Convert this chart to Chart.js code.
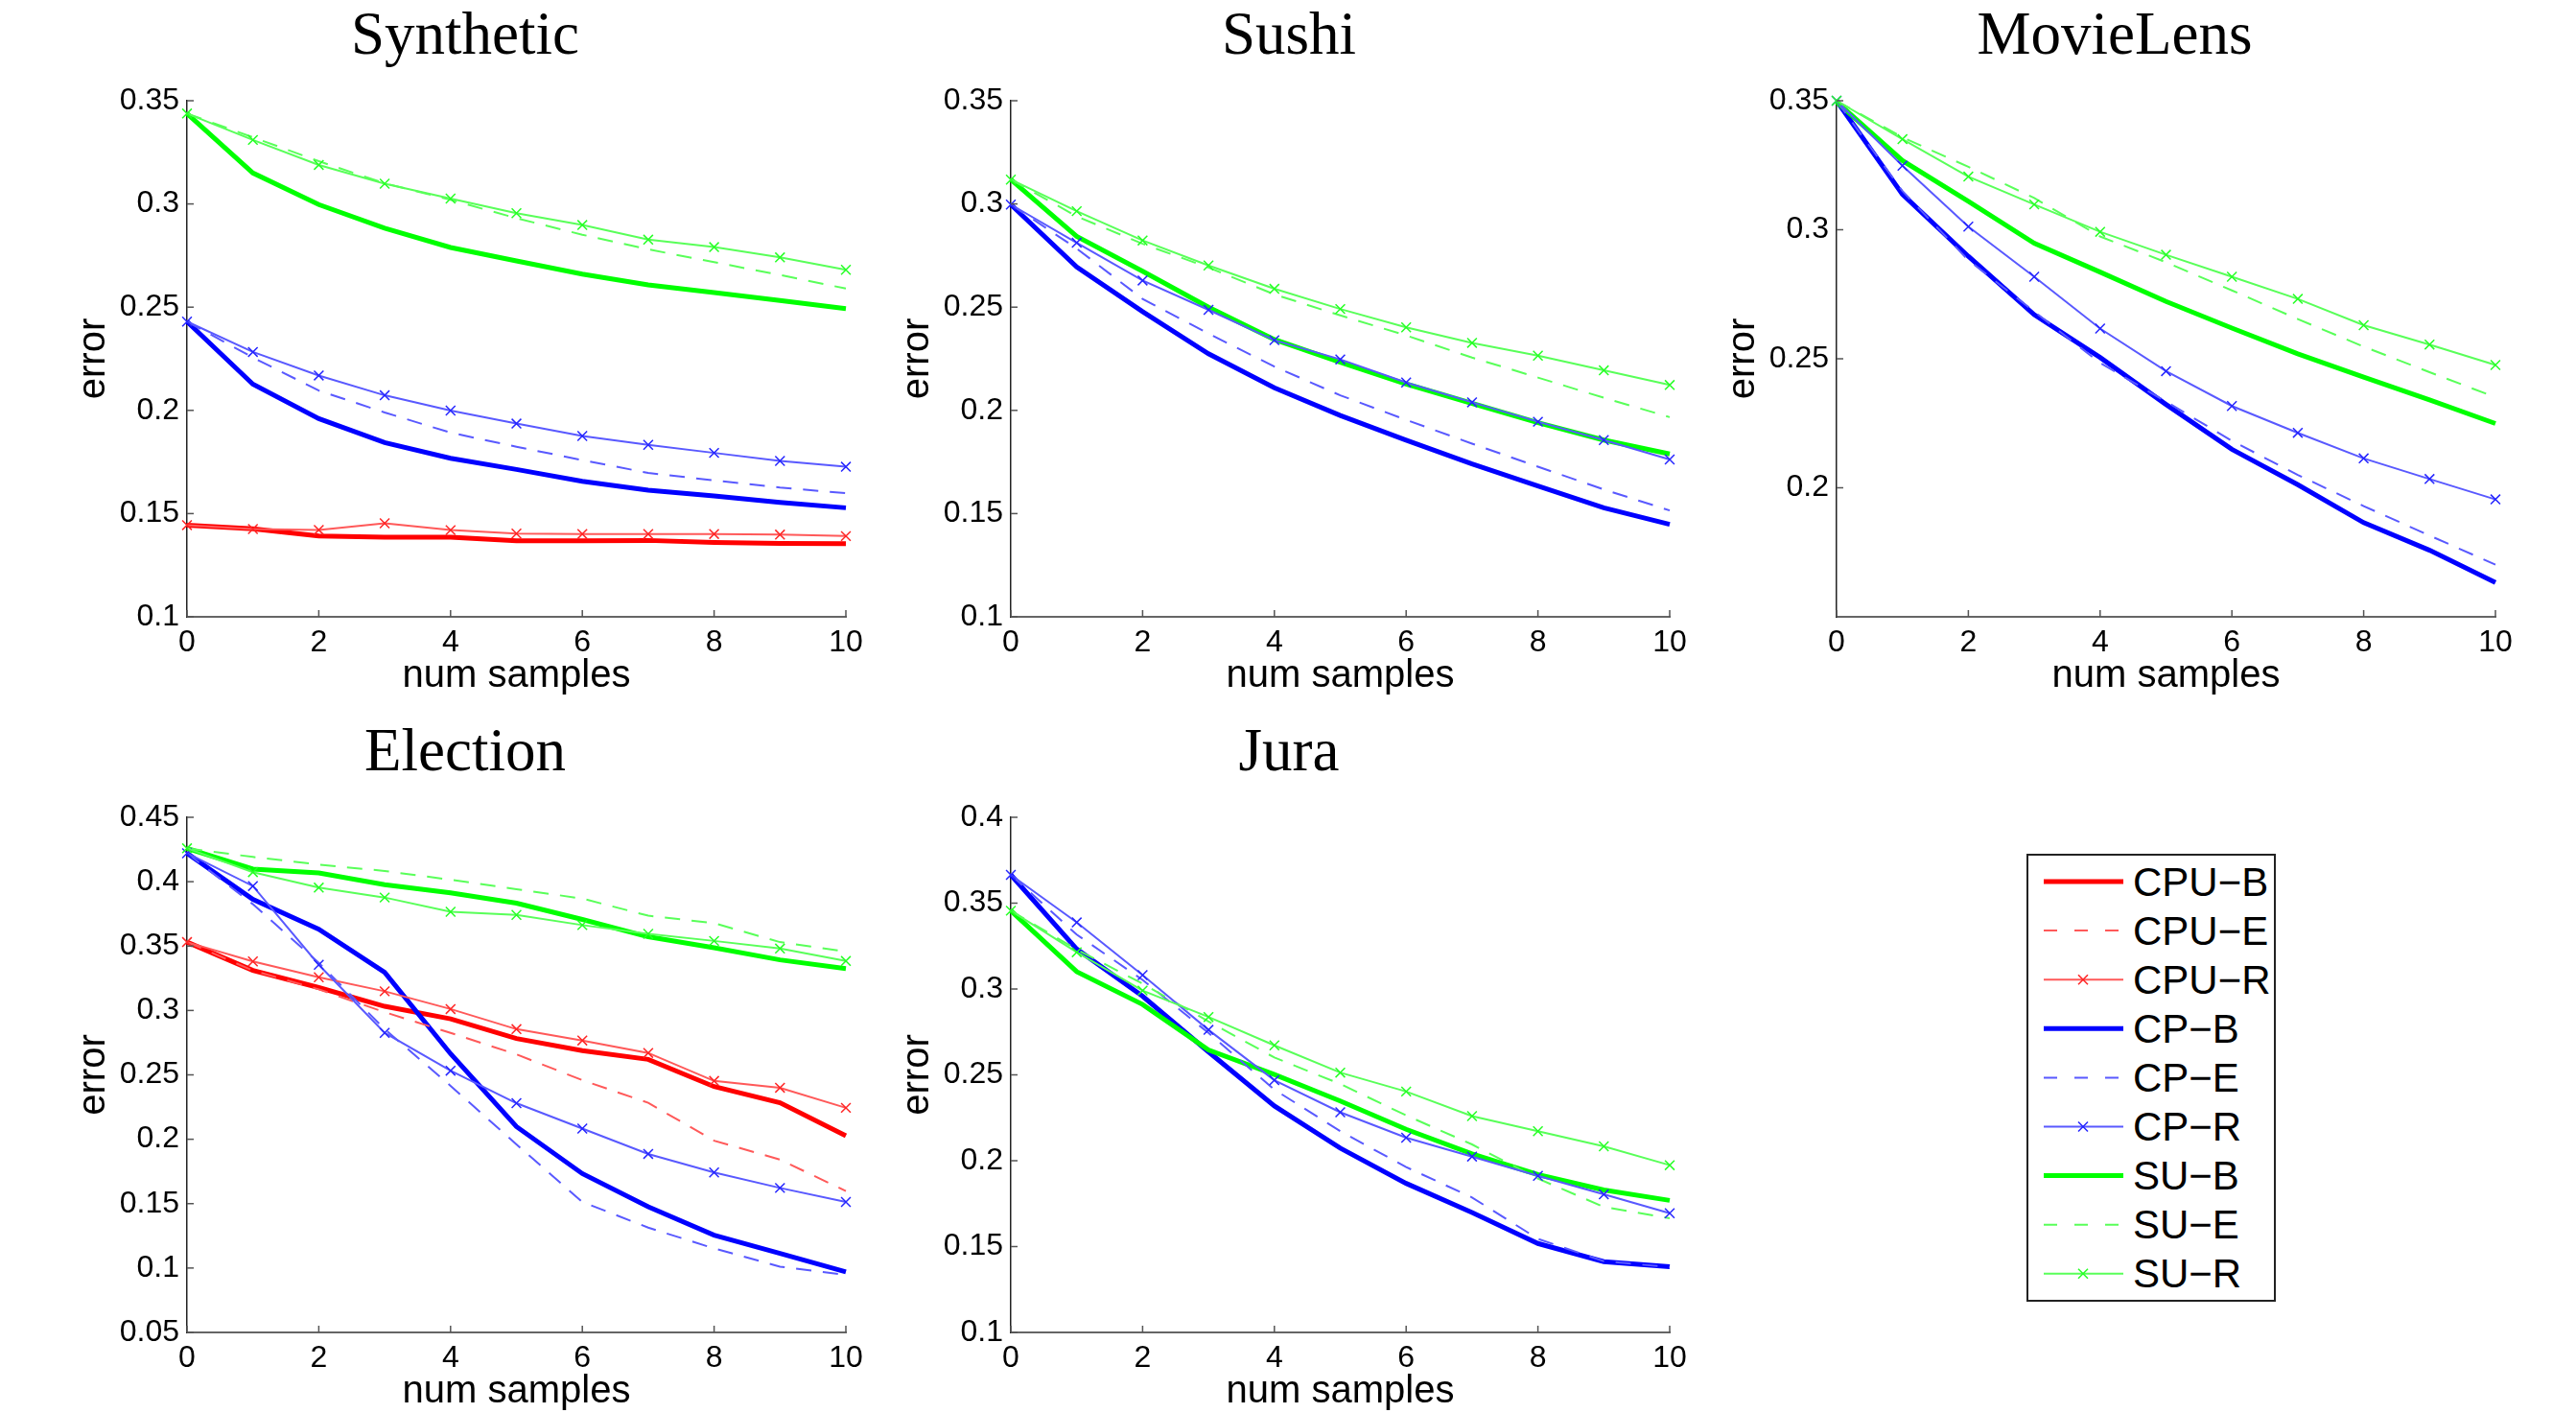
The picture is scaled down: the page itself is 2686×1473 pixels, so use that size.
<!DOCTYPE html>
<html>
<head>
<meta charset="utf-8">
<script src="https://cdn.jsdelivr.net/npm/chart.js@4.4.0/dist/chart.umd.min.js"></script>
<style>
  html, body { margin: 0; padding: 0; background: #fff; }
  body { width: 2686px; height: 1473px; position: relative; overflow: hidden; }
  canvas { position: absolute; }
  #legend { position: absolute; left: 2113px; top: 890px; width: 260px; height: 467px;
            box-sizing: border-box; border: 2px solid #222; background: #fff; }
</style>
</head>
<body>
<canvas id="synthetic" width="970" height="733" style="left:0px;top:0px"></canvas>
<canvas id="sushi" width="970" height="733" style="left:859px;top:0px"></canvas>
<canvas id="movielens" width="970" height="733" style="left:1720px;top:0px"></canvas>
<canvas id="election" width="970" height="732" style="left:0px;top:747px"></canvas>
<canvas id="jura" width="970" height="732" style="left:859px;top:747px"></canvas>
<div id="legend"></div>

<script>
const samples = [0, 1, 2, 3, 4, 5, 6, 7, 8, 9, 10];
const xTicks = [0, 2, 4, 6, 8, 10];

// Synthetic
const synTicks = [0.1, 0.15, 0.2, 0.25, 0.3, 0.35];
const synCpuB = [0.1444, 0.1426, 0.1391, 0.1386, 0.1386, 0.1368, 0.1368, 0.137, 0.136, 0.1356, 0.1354];
const synCpuR = [0.1444, 0.1425, 0.1421, 0.1453, 0.142, 0.1403, 0.1401, 0.1401, 0.1401, 0.1398, 0.1391];
const synCpB = [0.243, 0.2127, 0.196, 0.1844, 0.1768, 0.1714, 0.1656, 0.1613, 0.1585, 0.1554, 0.1528];
const synCpE = [0.243, 0.2256, 0.2096, 0.199, 0.1892, 0.1824, 0.1759, 0.1697, 0.1661, 0.1626, 0.1599];
const synCpR = [0.243, 0.2283, 0.2169, 0.2073, 0.1999, 0.1936, 0.1876, 0.1833, 0.1794, 0.1755, 0.1727];
const synSuB = [0.3438, 0.315, 0.2997, 0.2883, 0.2789, 0.2724, 0.266, 0.2608, 0.2571, 0.2532, 0.2493];
const synSuE = [0.3438, 0.3323, 0.3207, 0.31, 0.302, 0.2931, 0.2851, 0.278, 0.2718, 0.2656, 0.259];
const synSuR = [0.3438, 0.331, 0.3189, 0.3098, 0.3026, 0.2955, 0.2898, 0.2827, 0.2791, 0.2741, 0.2681];

// Sushi
const sushiTicks = [0.1, 0.15, 0.2, 0.25, 0.3, 0.35];
const sushiCpB = [0.2997, 0.2695, 0.2478, 0.2274, 0.2109, 0.1975, 0.1856, 0.1741, 0.1634, 0.1528, 0.1448];
const sushiCpE = [0.2997, 0.2784, 0.254, 0.2372, 0.2212, 0.2073, 0.1954, 0.1839, 0.1727, 0.1617, 0.1515];
const sushiCpR = [0.2997, 0.2812, 0.2629, 0.2487, 0.234, 0.2247, 0.2135, 0.2039, 0.1945, 0.1856, 0.1762];
const sushiSuB = [0.3118, 0.2843, 0.2674, 0.25, 0.2343, 0.2233, 0.2128, 0.2034, 0.194, 0.1856, 0.1789];
const sushiSuE = [0.3118, 0.294, 0.2807, 0.2692, 0.2562, 0.246, 0.2363, 0.2256, 0.2159, 0.2061, 0.1967];
const sushiSuR = [0.3118, 0.2965, 0.2823, 0.2702, 0.2589, 0.2491, 0.2402, 0.2327, 0.2265, 0.2194, 0.2123];

// MovieLens
const movTicks = [0.2, 0.25, 0.3, 0.35];
const movCpB = [0.35, 0.3137, 0.2897, 0.2671, 0.2505, 0.2323, 0.2149, 0.2012, 0.1865, 0.1758, 0.1633];
const movCpE = [0.35, 0.315, 0.2882, 0.2683, 0.2484, 0.2334, 0.2182, 0.205, 0.1929, 0.1815, 0.1702];
const movCpR = [0.35, 0.3248, 0.3012, 0.2818, 0.2617, 0.2452, 0.2317, 0.2213, 0.2114, 0.2034, 0.1955];
const movSuB = [0.3496, 0.3268, 0.311, 0.2948, 0.2836, 0.2722, 0.2619, 0.2519, 0.2429, 0.2341, 0.2249];
const movSuE = [0.35, 0.3358, 0.3244, 0.3123, 0.2974, 0.2874, 0.2765, 0.2654, 0.2547, 0.2448, 0.2351];
const movSuR = [0.35, 0.3351, 0.3206, 0.3098, 0.2992, 0.2903, 0.2818, 0.2732, 0.263, 0.2555, 0.2476];

// Election
const eleTicks = [0.05, 0.1, 0.15, 0.2, 0.25, 0.3, 0.35, 0.4, 0.45];
const eleCpuB = [0.3531, 0.3311, 0.3178, 0.3032, 0.2935, 0.2782, 0.2688, 0.262, 0.2409, 0.2283, 0.2027];
const eleCpuE = [0.3531, 0.331, 0.3164, 0.2987, 0.2826, 0.2659, 0.2459, 0.2283, 0.1989, 0.1842, 0.1598];
const eleCpuR = [0.3531, 0.3381, 0.3258, 0.3149, 0.3011, 0.2855, 0.2767, 0.267, 0.2453, 0.24, 0.2244];
const eleCpB = [0.4221, 0.3863, 0.3631, 0.3296, 0.2664, 0.2098, 0.1733, 0.1475, 0.1255, 0.1114, 0.097];
const eleCpE = [0.4221, 0.3825, 0.337, 0.2855, 0.2415, 0.196, 0.1513, 0.1314, 0.1152, 0.1011, 0.0946];
const eleCpR = [0.4221, 0.3966, 0.3355, 0.2826, 0.2532, 0.228, 0.2083, 0.1886, 0.1742, 0.1622, 0.1513];
const eleSuB = [0.4259, 0.4098, 0.4068, 0.3977, 0.3913, 0.3833, 0.3707, 0.3572, 0.3487, 0.3393, 0.3325];
const eleSuE = [0.4259, 0.4192, 0.4133, 0.4083, 0.4015, 0.3942, 0.3869, 0.3736, 0.3678, 0.3531, 0.3457];
const eleSuR = [0.4259, 0.4074, 0.3954, 0.3877, 0.3766, 0.3742, 0.3663, 0.3595, 0.354, 0.3481, 0.3384];

// Jura
const juraTicks = [0.1, 0.15, 0.2, 0.25, 0.3, 0.35, 0.4];
const juraCpB = [0.3665, 0.3233, 0.2958, 0.2634, 0.2319, 0.2073, 0.1868, 0.1698, 0.1518, 0.1412, 0.1383];
const juraCpE = [0.3665, 0.3317, 0.3053, 0.2744, 0.2414, 0.2172, 0.1963, 0.1786, 0.1545, 0.1415, 0.138];
const juraCpR = [0.3665, 0.3388, 0.3081, 0.2762, 0.2469, 0.2282, 0.2134, 0.2024, 0.1912, 0.1804, 0.1694];
const juraSuB = [0.3456, 0.3101, 0.291, 0.2645, 0.2502, 0.2348, 0.2183, 0.204, 0.1919, 0.183, 0.1769];
const juraSuE = [0.3456, 0.323, 0.3031, 0.2811, 0.2601, 0.2447, 0.2264, 0.2095, 0.1896, 0.1731, 0.1665];
const juraSuR = [0.3456, 0.3214, 0.2991, 0.2837, 0.2672, 0.2513, 0.2403, 0.226, 0.2172, 0.2084, 0.1974];

const legendNames = ['CPU\u2212B', 'CPU\u2212E', 'CPU\u2212R', 'CP\u2212B', 'CP\u2212E', 'CP\u2212R', 'SU\u2212B', 'SU\u2212E', 'SU\u2212R'];

// colours per method, drawing rank (higher = drawn earlier)
const methodColor = { CPU: [255, 0, 0], CP: [0, 0, 255], SU: [0, 255, 0] };
const methodRank = { CPU: 3, CP: 2, SU: 1 };

function rgb(c, k) {
  // k = share of white mixed in
  return 'rgb(' + c.map(v => Math.round(v * (1 - k) + 255 * k)).join(',') + ')';
}

function series(method, kind, values) {
  const c = methodColor[method];
  const ds = {
    label: method + '-' + kind,
    data: samples.map((x, i) => ({ x: x, y: values[i] })),
    tension: 0,
    clip: false,
    pointRadius: 0,
    fill: false
  };
  if (kind === 'B') {
    ds.borderColor = rgb(c, 0);
    ds.borderWidth = 5;
    ds.order = 30 + methodRank[method];
  } else if (kind === 'E') {
    ds.borderColor = rgb(c, 0.35);
    ds.borderWidth = 2;
    ds.borderDash = [16, 12];
    ds.order = 20 + methodRank[method];
  } else {
    ds.borderColor = rgb(c, 0.35);
    ds.borderWidth = 2;
    ds.pointStyle = 'crossRot';
    ds.pointRadius = 7;
    ds.pointBorderWidth = 1.5;
    ds.pointBorderColor = rgb(c, 0.15);
    ds.order = 10 + methodRank[method];
  }
  return ds;
}

// MATLAB style ticks pointing into the plot
const inTicks = {
  id: 'inTicks',
  afterDraw(chart) {
    const { ctx, chartArea: a, scales: { x, y } } = chart;
    ctx.save();
    ctx.strokeStyle = '#555';
    ctx.lineWidth = 1.5;
    x.ticks.forEach(t => {
      const px = x.getPixelForValue(t.value);
      ctx.beginPath(); ctx.moveTo(px, a.bottom); ctx.lineTo(px, a.bottom - 7); ctx.stroke();
    });
    y.ticks.forEach(t => {
      const py = y.getPixelForValue(t.value);
      ctx.beginPath(); ctx.moveTo(a.left, py); ctx.lineTo(a.left + 7, py); ctx.stroke();
    });
    ctx.restore();
  }
};

const sansTick = { family: 'Liberation Sans', size: 32, lineHeight: 1 };
const sansTitle = { family: 'Liberation Sans', size: 40, lineHeight: 1 };

function panel(id, title, yMin, yMax, yTicks, sets) {
  return new Chart(document.getElementById(id), {
    type: 'line',
    data: { datasets: sets },
    options: {
      responsive: false,
      animation: false,
      events: [],
      // equal side padding keeps the title centred 53px left of the plot centre
      layout: { padding: { left: 88, right: 88, top: 0, bottom: 0 } },
      plugins: {
        legend: { display: false },
        tooltip: { enabled: false },
        title: {
          display: true,
          text: title,
          color: '#000',
          font: { family: 'Liberation Serif', size: 63, weight: 'normal', lineHeight: 1 },
          padding: { top: 8, bottom: 34 }
        }
      },
      scales: {
        x: {
          type: 'linear',
          min: 0,
          max: 10,
          grid: { display: false, drawTicks: false },
          border: { color: '#666', width: 2 },
          afterBuildTicks: s => { s.ticks = xTicks.map(v => ({ value: v })); },
          afterFit: s => { s.height = 90; },
          ticks: { color: '#000', font: sansTick, padding: 11, maxRotation: 0, autoSkip: false,
                   callback: v => String(v) },
          title: { display: true, text: 'num samples', color: '#000', font: sansTitle,
                   padding: { top: 0, bottom: 8 } }
        },
        y: {
          min: yMin,
          max: yMax,
          grid: { display: false, drawTicks: false },
          border: { color: '#222', width: 1.5 },
          afterBuildTicks: s => { s.ticks = yTicks.map(v => ({ value: v })); },
          afterFit: s => { s.width = 107; },
          ticks: { color: '#000', font: sansTick, padding: 8, autoSkip: false,
                   callback: v => String(v) },
          title: { display: true, text: 'error', color: '#000',
                   font: { family: 'Liberation Sans', size: 40, lineHeight: 0.5 },
                   padding: { top: 0, bottom: 0 } }
        }
      }
    },
    plugins: [inTicks]
  });
}

panel('synthetic', 'Synthetic', 0.1, 0.35, synTicks, [
  series('CPU', 'B', synCpuB), series('CPU', 'R', synCpuR),
  series('CP', 'B', synCpB), series('CP', 'E', synCpE), series('CP', 'R', synCpR),
  series('SU', 'B', synSuB), series('SU', 'E', synSuE), series('SU', 'R', synSuR)
]);

panel('sushi', 'Sushi', 0.1, 0.35, sushiTicks, [
  series('CP', 'B', sushiCpB), series('CP', 'E', sushiCpE), series('CP', 'R', sushiCpR),
  series('SU', 'B', sushiSuB), series('SU', 'E', sushiSuE), series('SU', 'R', sushiSuR)
]);

panel('movielens', 'MovieLens', 0.15, 0.35, movTicks, [
  series('CP', 'B', movCpB), series('CP', 'E', movCpE), series('CP', 'R', movCpR),
  series('SU', 'B', movSuB), series('SU', 'E', movSuE), series('SU', 'R', movSuR)
]);

panel('election', 'Election', 0.05, 0.45, eleTicks, [
  series('CPU', 'B', eleCpuB), series('CPU', 'E', eleCpuE), series('CPU', 'R', eleCpuR),
  series('CP', 'B', eleCpB), series('CP', 'E', eleCpE), series('CP', 'R', eleCpR),
  series('SU', 'B', eleSuB), series('SU', 'E', eleSuE), series('SU', 'R', eleSuR)
]);

panel('jura', 'Jura', 0.1, 0.4, juraTicks, [
  series('CP', 'B', juraCpB), series('CP', 'E', juraCpE), series('CP', 'R', juraCpR),
  series('SU', 'B', juraSuB), series('SU', 'E', juraSuE), series('SU', 'R', juraSuR)
]);

// legend box with line samples
(function buildLegend() {
  const methods = ['CPU', 'CP', 'SU'];
  const kinds = ['B', 'E', 'R'];
  let svg = '<svg width="256" height="463" xmlns="http://www.w3.org/2000/svg">';
  legendNames.forEach((name, i) => {
    const m = methods[Math.floor(i / 3)], k = kinds[i % 3], c = methodColor[m];
    const cy = 27 + i * 51.1;
    if (k === 'B') {
      svg += '<line x1="16" x2="99" y1="' + cy + '" y2="' + cy + '" stroke="' + rgb(c, 0) + '" stroke-width="5"/>';
    } else if (k === 'E') {
      svg += '<line x1="16" x2="99" y1="' + cy + '" y2="' + cy + '" stroke="' + rgb(c, 0.35) + '" stroke-width="2" stroke-dasharray="14 18"/>';
    } else {
      svg += '<line x1="16" x2="99" y1="' + cy + '" y2="' + cy + '" stroke="' + rgb(c, 0.35) + '" stroke-width="2"/>';
      const mx = 57, r = 5;
      svg += '<path d="M' + (mx - r) + ' ' + (cy - r) + 'L' + (mx + r) + ' ' + (cy + r) + 'M' + (mx - r) + ' ' + (cy + r) + 'L' + (mx + r) + ' ' + (cy - r) + '" stroke="' + rgb(c, 0.15) + '" stroke-width="1.5"/>';
    }
    svg += '<text x="109" y="' + cy + '" dominant-baseline="central" font-family="Liberation Sans" font-size="42" fill="#000">' + name + '</text>';
  });
  svg += '</svg>';
  document.getElementById('legend').innerHTML = svg;
})();
</script>
</body>
</html>
